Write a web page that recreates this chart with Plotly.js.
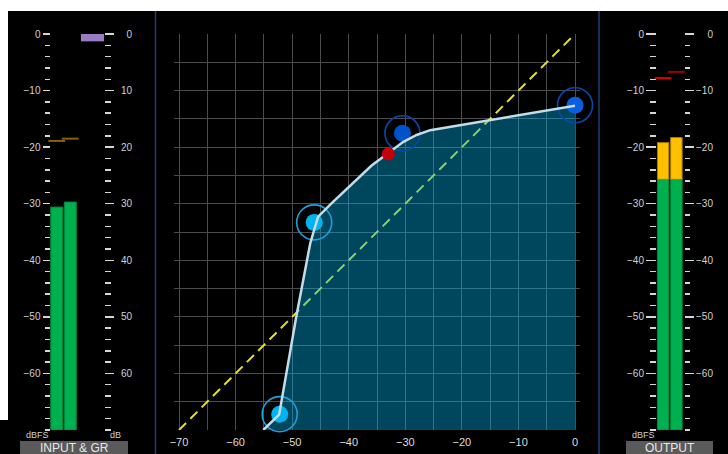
<!DOCTYPE html>
<html>
<head>
<meta charset="utf-8">
<script src="https://cdn.plot.ly/plotly-3.0.1.min.js"></script>
<style>html,body{margin:0;padding:0;background:#000;}#chart{width:728px;height:454px;}</style>
</head>
<body>
<div id="chart"></div>
<script>
// ---- data ----
const curveX = [-55.1, -52.3, -49.2, -47.4, -46.8, -46.1, -45.4, -44.2, -43.0, -36.0, -33.0, -30.4, -28.0, -25.6, 0];
const curveY = [-70, -67.3, -49.6, -40.0, -37.0, -34.6, -32.3, -31.1, -29.9, -23.3, -21.0, -19.1, -17.85, -17.0, -12.7];
const unityX = [-70, 0];
const unityY = [-70, 0];
const ctrlX = [-52.2, -46.1, -30.5, 0];
const ctrlY = [-67.2, -33.3, -17.55, -12.6];
const levelX = [-33.0];
const levelY = [-21.2];
const meterChannels = [0, 1];
const inputLevels = [-30.6, -29.7];
const inputPeaks = [-18.9, -18.5];
const gainReduction = [1.3];
const outputLevels = [-19.2, -18.3];
const outputPeaks = [-7.8, -6.7];
const outputSplit = -25.7;
const mainTicks = [-70, -60, -50, -40, -30, -20, -10, 0];
const meterTicks = [0, -10, -20, -30, -40, -50, -60];
const grTicks = [0, 10, 20, 30, 40, 50, 60];
const floorDb = -70;

// ---- geometry helpers ----
const W = 728, H = 454;
const px = v => v / W;
const py = v => 1 - v / H;
const YD = [py(430), py(34)];
const FONT = 'Liberation Sans, Arial, sans-serif';
const tickCol = '#d6d6d6';
const labCol = '#d0d0d0';
const gridCol = '#4c4c4c';

const fillX = curveX.concat([curveX[curveX.length - 1], curveX[0]]);
const fillY = curveY.concat([floorDb, floorDb]);

const greenIn = inputLevels.map(v => v - floorDb);
const greenOut = outputLevels.map(v => Math.min(v, outputSplit) - floorDb);
const yellowOut = outputLevels.map(v => Math.max(v - outputSplit, 0));

const traces = [
  {type:'scatter', mode:'lines', x:unityX, y:unityY, xaxis:'x', yaxis:'y',
   line:{color:'#e8e400', width:2, dash:'10px,6px'}, hoverinfo:'skip'},
  {type:'scatter', mode:'lines', x:fillX, y:fillY, xaxis:'x', yaxis:'y', fill:'toself',
   fillcolor:'rgba(0,180,240,0.39)', line:{width:0, color:'rgba(0,0,0,0)'}, hoverinfo:'skip'},
  {type:'scatter', mode:'markers', x:ctrlX, y:ctrlY, xaxis:'x', yaxis:'y', cliponaxis:false,
   marker:{symbol:'circle-open', size:35, color:['#1ea0dc','#1ea0dc','#0a48a8','#0a48a8'], line:{width:1.6}}},
  {type:'scatter', mode:'markers', x:ctrlX, y:ctrlY, xaxis:'x', yaxis:'y', cliponaxis:false,
   marker:{size:17, color:['#00b4f0','#00b4f0','#0052c8','#0a5ee0'], line:{width:0}}},
  {type:'scatter', mode:'lines', x:curveX, y:curveY, xaxis:'x', yaxis:'y',
   line:{color:'#c4dce8', width:2.5}},
  {type:'scatter', mode:'markers', x:levelX, y:levelY, xaxis:'x', yaxis:'y', cliponaxis:false,
   marker:{size:13, color:'#c8000a', line:{width:0}}},
  // input meter
  {type:'bar', x:meterChannels, y:greenIn, base:floorDb, xaxis:'x2', yaxis:'y2', width:0.89,
   marker:{color:'#00b050', line:{color:'#00863c', width:1}}},
  {type:'scatter', mode:'markers', x:meterChannels, y:inputPeaks, xaxis:'x2', yaxis:'y2', cliponaxis:false,
   marker:{symbol:'line-ew', size:12, line:{width:2, color:'#85620a'}}},
  // gain reduction
  {type:'bar', x:[0], y:gainReduction, base:0, xaxis:'x3', yaxis:'y3', width:1,
   marker:{color:'#9a7cc0', line:{width:0}}},
  {type:'scatter', mode:'markers', x:[0], y:[null], xaxis:'x3', yaxis:'y5', hoverinfo:'skip'},
  // output meter
  {type:'bar', x:meterChannels, y:greenOut, base:floorDb, xaxis:'x4', yaxis:'y4', width:0.87,
   marker:{color:'#00b050', line:{color:'#00863c', width:1}}},
  {type:'bar', x:meterChannels, y:yellowOut, base:outputSplit, xaxis:'x4', yaxis:'y4', width:0.87,
   marker:{color:'#ffc000', line:{color:'#a47a00', width:1}}},
  {type:'scatter', mode:'markers', x:meterChannels, y:outputPeaks, xaxis:'x4', yaxis:'y6', cliponaxis:false,
   marker:{symbol:'line-ew', size:12, line:{width:2, color:['#e00000','#a00000']}}},
  {type:'scatter', mode:'markers', x:[0], y:[null], xaxis:'x4', yaxis:'y7', hoverinfo:'skip'}
];

const meterAxis = (pos, side, range, len, minorLen, labels, vals) => ({
  domain:YD, range:range, anchor:'free', position:pos, side:side,
  showgrid:false, zeroline:false, showline:false,
  tickmode:'array', tickvals:vals,
  ticks: len ? 'outside' : '', ticklen:len, tickwidth:1.5, tickcolor:tickCol,
  showticklabels:labels, tickfont:{size:10, color:labCol, family:FONT},
  minor: len ? {tickmode:'linear', tick0:0, dtick:2, ticks:'outside', ticklen:minorLen, tickwidth:1.5, tickcolor:tickCol} : undefined,
  fixedrange:true
});

const hiddenX = (d, r, anchor) => ({domain:d, range:r, visible:false, anchor:anchor, fixedrange:true});

const layout = {
  width:W, height:H, margin:{l:0, r:0, t:0, b:0},
  paper_bgcolor:'#000', plot_bgcolor:'rgba(0,0,0,0)',
  showlegend:false, barmode:'overlay', hovermode:false,
  font:{family:FONT, color:labCol},
  xaxis:{domain:[px(174), px(580)], range:[-70.884, 0.884], anchor:'y',
    tickmode:'array', tickvals:mainTicks, ticks:'', showgrid:true, gridcolor:gridCol, gridwidth:1,
    minor:{tickmode:'linear', tick0:0, dtick:5, showgrid:true, gridcolor:gridCol, gridwidth:1},
    zeroline:false, showline:false, tickfont:{size:11, color:'#dcdcdc', family:FONT}, ticklabelstandoff:4, fixedrange:true},
  yaxis:{domain:YD, range:[-70, 0], anchor:'x', dtick:5, showgrid:true, gridcolor:gridCol, gridwidth:1,
    zeroline:false, showline:false, showticklabels:false, ticks:'', fixedrange:true},
  xaxis2:hiddenX([px(50), px(77)], [-0.5, 1.5], 'y2'),
  xaxis3:hiddenX([px(81), px(104)], [-0.5, 0.5], 'y3'),
  xaxis4:hiddenX([px(656.5), px(683)], [-0.5, 1.5], 'y4'),
  yaxis2:meterAxis(px(49.5), 'left', [-70, 0], 7, 5, true, meterTicks),
  yaxis3:meterAxis(px(104), 'right', [70, 0], 9, 6, false, grTicks),
  yaxis5:meterAxis(px(132), 'left', [70, 0], 0, 0, true, grTicks),
  yaxis4:meterAxis(px(656), 'left', [-70, 0], 10, 6, true, meterTicks),
  yaxis6:meterAxis(px(684), 'right', [-70, 0], 9, 5, false, meterTicks),
  yaxis7:meterAxis(px(713), 'left', [-70, 0], 0, 0, true, meterTicks),
  shapes:[
    {type:'rect', xref:'paper', yref:'paper', x0:0, x1:1, y0:py(11), y1:1, fillcolor:'#ffffff', line:{width:0}},
    {type:'rect', xref:'paper', yref:'paper', x0:0, x1:px(8), y0:py(420), y1:1, fillcolor:'#ffffff', line:{width:0}},
    {type:'line', xref:'paper', yref:'paper', x0:px(155.5), x1:px(155.5), y0:0, y1:py(11), line:{color:'#1f3c6c', width:1.5}},
    {type:'line', xref:'paper', yref:'paper', x0:px(599), x1:px(599), y0:0, y1:py(11), line:{color:'#1f3c6c', width:1.5}},
    {type:'rect', xref:'paper', yref:'paper', x0:px(20), x1:px(128), y0:0, y1:py(441), fillcolor:'#5a5a5a', line:{width:0}},
    {type:'rect', xref:'paper', yref:'paper', x0:px(626), x1:px(713), y0:0, y1:py(441), fillcolor:'#5a5a5a', line:{width:0}}
  ],
  annotations:[
    {text:'INPUT &amp; GR', x:px(74), y:py(447.5), xref:'paper', yref:'paper', showarrow:false,
     font:{size:12, color:'#e8e8e8', family:FONT}, xanchor:'center', yanchor:'middle'},
    {text:'OUTPUT', x:px(669.5), y:py(447.5), xref:'paper', yref:'paper', showarrow:false,
     font:{size:12, color:'#e8e8e8', family:FONT}, xanchor:'center', yanchor:'middle'},
    {text:'dBFS', x:px(37.5), y:py(434.5), xref:'paper', yref:'paper', showarrow:false,
     font:{size:9, color:labCol, family:FONT}, xanchor:'center', yanchor:'middle'},
    {text:'dB', x:px(116), y:py(434.5), xref:'paper', yref:'paper', showarrow:false,
     font:{size:9, color:labCol, family:FONT}, xanchor:'center', yanchor:'middle'},
    {text:'dBFS', x:px(643), y:py(434.5), xref:'paper', yref:'paper', showarrow:false,
     font:{size:9, color:labCol, family:FONT}, xanchor:'center', yanchor:'middle'}
  ]
};

Plotly.newPlot('chart', traces, layout, {staticPlot:true, displayModeBar:false});
</script>
</body>
</html>
